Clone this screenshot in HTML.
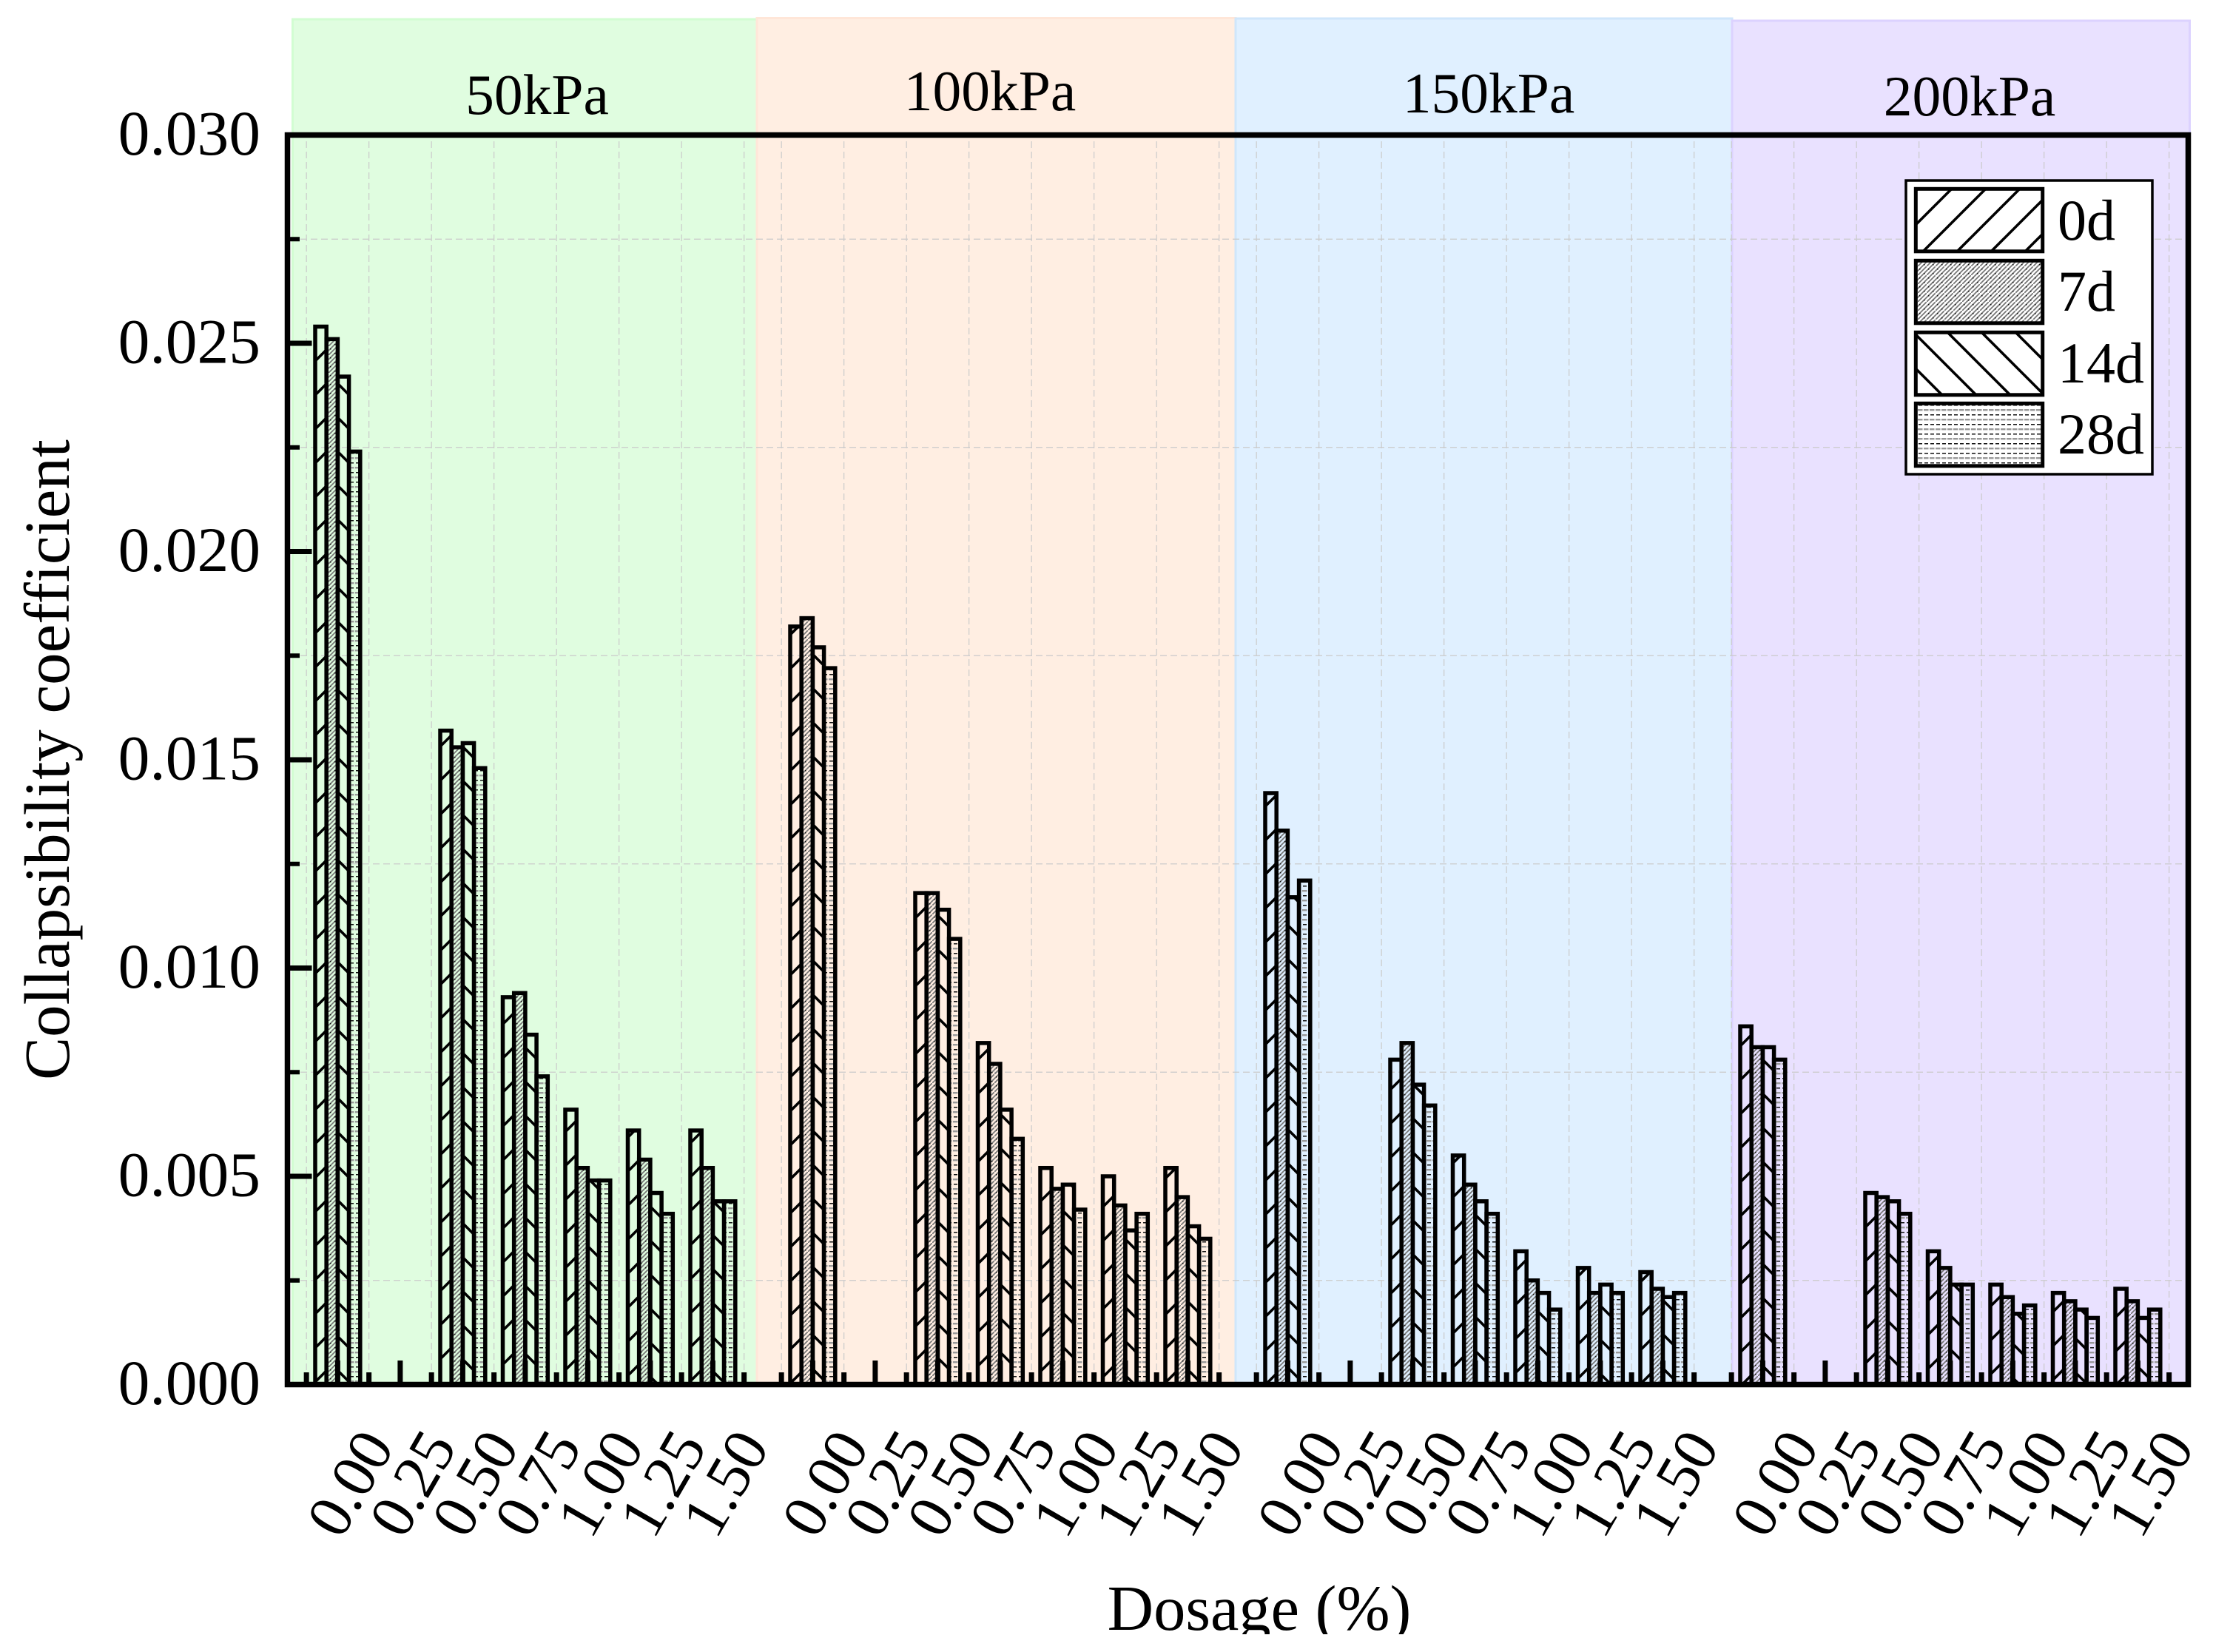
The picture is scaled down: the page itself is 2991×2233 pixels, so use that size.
<!DOCTYPE html>
<html lang="en">
<head>
<meta charset="utf-8">
<title>Collapsibility coefficient vs dosage</title>
<style>
html,body{margin:0;padding:0;background:#fff;}
svg{display:block;}
text{font-family:"Liberation Serif","Times New Roman",serif;fill:#000;}
</style>
</head>
<body>
<svg id="chart" xmlns="http://www.w3.org/2000/svg" width="2991" height="2233" viewBox="0 0 2991 2233">
  <defs>
    <pattern id="hatch-0d" patternUnits="userSpaceOnUse" width="46" height="46" patternTransform="translate(40 0)">
      <path d="M-4 50L50 -4M-4 4L4 -4M42 50L50 42" stroke="#000" stroke-width="3.6" fill="none"/>
    </pattern>
    <pattern id="hatch-14d" patternUnits="userSpaceOnUse" width="46" height="46" patternTransform="translate(30 0)">
      <path d="M-4 -4L50 50M42 -4L50 4M-4 42L4 50" stroke="#000" stroke-width="3.6" fill="none"/>
    </pattern>
    <pattern id="hatch-7d" patternUnits="userSpaceOnUse" width="12" height="12">
      <path d="M-1 7L7 -1M5 13L13 5M-1 13L13 -1" stroke="#777" stroke-width="1.8" fill="none"/>
      <rect x="2" y="3" width="1.5" height="1.5" fill="#111"/>
      <rect x="8" y="9" width="1.5" height="1.5" fill="#111"/>
    </pattern>
    <pattern id="hatch-28d" patternUnits="userSpaceOnUse" width="8" height="13">
      <rect x="1" y="1" width="5" height="1.5" fill="#111"/>
      <rect x="0" y="7" width="6.5" height="2.4" fill="#999"/>
    </pattern>
    <pattern id="legend-hatch-0d" patternUnits="userSpaceOnUse" width="46" height="46" patternTransform="translate(41 0)">
      <path d="M-4 50L50 -4M-4 4L4 -4M42 50L50 42" stroke="#000" stroke-width="3.6" fill="none"/>
    </pattern>
    <pattern id="legend-hatch-14d" patternUnits="userSpaceOnUse" width="46" height="46" patternTransform="translate(21 0)">
      <path d="M-4 -4L50 50M42 -4L50 4M-4 42L4 50" stroke="#000" stroke-width="3.6" fill="none"/>
    </pattern>
    <clipPath id="page-clip"><rect x="0" y="0" width="2991" height="2209"/></clipPath>
  </defs>
  <g id="bands"></g>
  <g id="grid"></g>
  <g id="bars"></g>
  <g id="ticks"></g>
  <rect x="388.5" y="182.5" width="2569" height="1689" fill="none" stroke="#000" stroke-width="7.5"/>
  <g id="tick-labels"></g>
  <text transform="translate(93 1027) rotate(-90)" text-anchor="middle" font-size="87">Collapsibility coefficient</text>
  <g clip-path="url(#page-clip)">
    <text x="1702" y="2203" text-anchor="middle" font-size="86.5">Dosage (%)</text>
  </g>
  <g>
    <rect x="2576" y="244" width="333" height="397" fill="#fff" stroke="#000" stroke-width="3.5"/>
    <rect x="2589.3" y="255.3" width="171.4" height="84.5" fill="url(#legend-hatch-0d)" stroke="#000" stroke-width="5"/>
    <rect x="2589.3" y="352.3" width="171.4" height="84.5" fill="url(#hatch-7d)" stroke="#000" stroke-width="5"/>
    <rect x="2589.3" y="449.3" width="171.4" height="84.5" fill="url(#legend-hatch-14d)" stroke="#000" stroke-width="5"/>
    <rect x="2589.3" y="545.3" width="171.4" height="84.5" fill="url(#hatch-28d)" stroke="#000" stroke-width="5"/>
    <text x="2781" y="324" font-size="78">0d</text>
    <text x="2781" y="420" font-size="78">7d</text>
    <text x="2781" y="517" font-size="78">14d</text>
    <text x="2781" y="613" font-size="78">28d</text>
  </g>
</svg>
<script>
const pressures = ['50kPa', '100kPa', '150kPa', '200kPa'];
const dosageLabels = ['0.00', '0.25', '0.50', '0.75', '1.00', '1.25', '1.50'];
const ages = ['0d', '7d', '14d', '28d'];
const yTickValues = [0, 0.005, 0.01, 0.015, 0.02, 0.025, 0.03];
const yTickLabels = ['0.000', '0.005', '0.010', '0.015', '0.020', '0.025', '0.030'];
const yMinorValues = [0.0025, 0.0075, 0.0125, 0.0175, 0.0225, 0.0275];

const values50kPa = [
  [0.0254, 0, 0.0157, 0.0093, 0.0066, 0.0061, 0.0061],
  [0.0251, 0, 0.0153, 0.0094, 0.0052, 0.0054, 0.0052],
  [0.0242, 0, 0.0154, 0.0084, 0.0049, 0.0046, 0.0044],
  [0.0224, 0, 0.0148, 0.0074, 0.0049, 0.0041, 0.0044]
];
const values100kPa = [
  [0.0182, 0, 0.0118, 0.0082, 0.0052, 0.0050, 0.0052],
  [0.0184, 0, 0.0118, 0.0077, 0.0047, 0.0043, 0.0045],
  [0.0177, 0, 0.0114, 0.0066, 0.0048, 0.0037, 0.0038],
  [0.0172, 0, 0.0107, 0.0059, 0.0042, 0.0041, 0.0035]
];
const values150kPa = [
  [0.0142, 0, 0.0078, 0.0055, 0.0032, 0.0028, 0.0027],
  [0.0133, 0, 0.0082, 0.0048, 0.0025, 0.0022, 0.0023],
  [0.0117, 0, 0.0072, 0.0044, 0.0022, 0.0024, 0.0021],
  [0.0121, 0, 0.0067, 0.0041, 0.0018, 0.0022, 0.0022]
];
const values200kPa = [
  [0.0086, 0, 0.0046, 0.0032, 0.0024, 0.0022, 0.0023],
  [0.0081, 0, 0.0045, 0.0028, 0.0021, 0.0020, 0.0020],
  [0.0081, 0, 0.0044, 0.0024, 0.0017, 0.0018, 0.0016],
  [0.0078, 0, 0.0041, 0.0024, 0.0019, 0.0016, 0.0018]
];
const groupValues = [values50kPa, values100kPa, values150kPa, values200kPa];

const NS = 'http://www.w3.org/2000/svg';
const Y0 = 1871.5, YTOP = 182.5, YMAX = 0.03;
const X_FIRST = 456.4, CAT_STEP = 84.5, GROUP_STEP = 642, BAR_STEP = 15.2;

function yScale(v) { return Y0 - (v / YMAX) * (Y0 - YTOP); }
function xScale(group, cat) { return X_FIRST + group * GROUP_STEP + cat * CAT_STEP; }
function barCenter(group, cat, age) { return xScale(group, cat) + (age - 1.5) * BAR_STEP; }

function make(parent, tag, attrs, text) {
  const node = document.createElementNS(NS, tag);
  for (const k in attrs) node.setAttribute(k, attrs[k]);
  if (text !== undefined) node.textContent = text;
  parent.appendChild(node);
  return node;
}

const bandsG = document.getElementById('bands');
const gridG = document.getElementById('grid');
const barsG = document.getElementById('bars');
const ticksG = document.getElementById('ticks');
const labelsG = document.getElementById('tick-labels');

/* background bands: edges, top and colours are layout, not data */
const bandEdges = [395.5, 1023, 1670, 2341, 2959.5];
const bandTops = [26, 24.5, 25, 28];
const bandFills = ['#e0fde0', '#ffeee2', '#e0f0ff', '#e9e1ff'];
const bandStrokes = ['#d2fdd2', '#ffe6d8', '#cfe6fb', '#dcd2ff'];
const bandLabelCenters = [726, 1338, 2012, 2662];
const bandLabelBaselines = [154, 149, 152, 156];

pressures.forEach(function (p, i) {
  const b = make(bandsG, 'rect', { x: bandEdges[i], y: bandTops[i], width: bandEdges[i + 1] - bandEdges[i], height: Y0 - bandTops[i], fill: bandFills[i], stroke: bandStrokes[i], 'stroke-width': 3 });
  
  
  const t = make(labelsG, 'text', { x: bandLabelCenters[i], y: bandLabelBaselines[i], 'text-anchor': 'middle', 'font-size': 77.5 }, p);
  
  
});

/* grid at minor positions */
yMinorValues.forEach(function (v) {
  const g = make(gridG, 'line', { x1: 392, x2: 2954, y1: yScale(v), y2: yScale(v), stroke: '#cacaca', 'stroke-width': 1.2, 'stroke-dasharray': '9 5' });
  
  
  const t = make(ticksG, 'rect', { x: 388, y: yScale(v) - 3, width: 17, height: 6, fill: '#000' });
  
  
});

pressures.forEach(function (p, g) {
  for (let c = 0; c <= dosageLabels.length; c++) {
    const xm = xScale(g, c - 0.5);
    const gl = make(gridG, 'line', { x1: xm, x2: xm, y1: 191, y2: 1868, stroke: '#cacaca', 'stroke-width': 1.2, 'stroke-dasharray': '9 5' });
    
    
    const mt = make(ticksG, 'rect', { x: xm - 3.5, y: 1855, width: 7, height: 16, fill: '#000' });
    
    
  }
  dosageLabels.forEach(function (d, c) {
    const xc = xScale(g, c);
    const tick = make(ticksG, 'rect', { x: xc - 3.5, y: 1839, width: 7, height: 32, fill: '#000' });
    
    
    const lab = make(labelsG, 'text', { transform: 'translate(' + (xc + 41) + ' 2019) rotate(-60)', 'text-anchor': 'middle', 'font-size': 84 }, d);
    
    
  });
});

/* y ticks and labels */
yTickValues.forEach(function (v, i) {
  const t = make(ticksG, 'rect', { x: 388, y: yScale(v) - 3.5, width: 33.5, height: 7, fill: '#000' });
  
  
  const l = make(labelsG, 'text', { x: 352, y: yScale(v) + 26.5, 'text-anchor': 'end', 'font-size': 85.5 }, yTickLabels[i]);
  
  
});

/* bars */
const hatchIds = ['hatch-0d', 'hatch-7d', 'hatch-14d', 'hatch-28d'];
groupValues.forEach(function (seriesList, g) {
  dosageLabels.forEach(function (d, c) {
    ages.forEach(function (a, s) {
      const v = seriesList[s][c];
      if (!v) return;
      const cx = barCenter(g, c, s);
      const top = yScale(v);
      const bar = make(barsG, 'rect', { x: cx - BAR_STEP / 2, y: top, width: BAR_STEP, height: Y0 - top, fill: 'url(#' + hatchIds[s] + ')', stroke: '#000', 'stroke-width': 5.5 });
      
      
    });
  });
});
</script>
</body>
</html>
